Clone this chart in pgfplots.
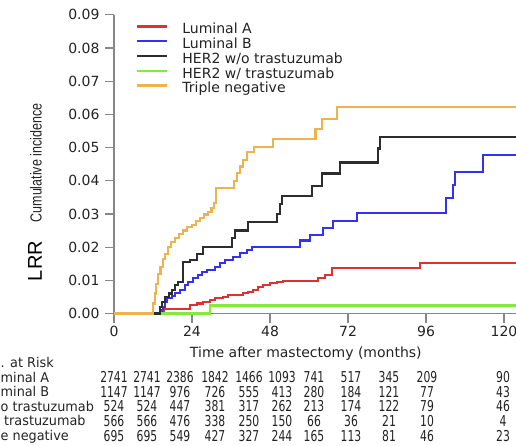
\documentclass[border=0pt]{standalone}
\usepackage{fontspec}
\setmainfont{DejaVu Sans}
\newfontfamily\numfont[FakeStretch=0.72]{DejaVu Sans}
\newfontfamily\labfont[FakeStretch=0.95]{DejaVu Sans}
\newfontfamily\narrowfont[FakeStretch=0.78]{Liberation Sans}
\newfontfamily\lrrfont{Liberation Sans}
\usepackage{pgfplots}
\pgfplotsset{compat=1.18}
\definecolor{cLA}{RGB}{220,50,50}
\definecolor{cLB}{RGB}{50,50,240}
\definecolor{cH}{RGB}{45,45,45}
\definecolor{cHT}{RGB}{130,235,60}
\definecolor{cTN}{RGB}{238,178,78}
\definecolor{axgray}{RGB}{135,135,135}
\definecolor{txt}{RGB}{35,35,35}
\begin{document}
\begin{tikzpicture}
\useasboundingbox (0,0) rectangle (516pt,-445pt);
\clip (0,0) rectangle (516pt,-445pt);
\begin{axis}[
  at={(114pt,-313.5pt)}, anchor=south west,
  scale only axis, width=403pt, height=298.8pt,
  xmin=0, xmax=124, ymin=0, ymax=0.09,
  axis lines*=left,
  axis line style={axgray, line width=1.2pt},
  tick style={axgray, line width=1.2pt},
  major tick length=9pt, tick align=outside,
  xtick={0,24,48,72,96,120},
  ytick={0,0.01,0.02,0.03,0.04,0.05,0.06,0.07,0.08,0.09},
  scaled y ticks=false,
  ticklabel style={font=\fontsize{14}{16}\selectfont, text=txt},
  yticklabel style={xshift=-2pt, /pgf/number format/.cd, fixed, fixed zerofill, precision=2},
  /pgf/number format/assume math mode=true,
  xlabel={Time after mastectomy (months)},
  xlabel style={at={(axis description cs:0.476,-0.1456)}, anchor=base, font=\fontsize{14}{16}\selectfont, text=txt},
  clip=false,
  legend style={at={(axis description cs:0.0546,0.972)}, anchor=north west, draw=none, fill=none, inner sep=0pt,
    font=\fontsize{14}{16}\selectfont, text=txt,
    nodes={inner sep=0pt, text height=10.5pt, text depth=3.5pt},
    row sep=0.75pt, /tikz/every odd column/.append style={column sep=14pt}},
  legend cell align=left,
  legend image code/.code={\draw[#1, line width=2.2pt] (0pt,3.8pt) -- (30pt,3.8pt);},
]
\addlegendimage{cLA}
\addlegendimage{cLB}
\addlegendimage{cH}
\addlegendimage{cHT}
\addlegendimage{cTN}
\addplot[cLA, const plot, line width=2.2pt, forget plot] coordinates {(0,0) (14.8,0.0008) (15.5,0.0014) (23.4,0.0026) (25.5,0.003) (27.4,0.0035) (29.5,0.004) (31.1,0.0047) (33.5,0.005) (35.1,0.0056) (39.7,0.0062) (41.2,0.0065) (42.8,0.0071) (44.3,0.008) (45.8,0.0086) (48,0.0092) (50.2,0.0095) (52,0.0098) (62.8,0.0107) (64.9,0.0116) (67,0.0137) (94.2,0.0152) (124,0.0152)};
\addplot[cLB, const plot, line width=2.2pt, forget plot] coordinates {(0,0) (14.8,0.001) (15.1,0.002) (15.7,0.0035) (16.3,0.0047) (17.8,0.0052) (18.8,0.0062) (20.3,0.0071) (21.8,0.0086) (22.8,0.0095) (24.3,0.0107) (25.8,0.0116) (27.1,0.0125) (28.6,0.0131) (31.1,0.014) (32.6,0.0152) (34.2,0.0161) (36.6,0.017) (38.8,0.0182) (40.9,0.0191) (42.5,0.0200) (57.2,0.0220) (60.3,0.0236) (64.3,0.0257) (67.4,0.0279) (74.8,0.0303) (102.2,0.0348) (104.3,0.0387) (104.9,0.0426) (113.5,0.0477) (124,0.0477)};
\addplot[cHT, const plot, line width=2.2pt, forget plot] coordinates {(0,0) (29.5,0.0024) (124,0.0024)};
\addplot[cH, const plot, line width=2.2pt, forget plot] coordinates {(0,0) (14.2,0.002) (14.8,0.0035) (15.7,0.005) (16.8,0.006) (17.8,0.0071) (18.8,0.0085) (19.7,0.0095) (21.2,0.0155) (23.4,0.0162) (25.5,0.018) (27.4,0.0201) (36.3,0.0228) (37.2,0.025) (41.2,0.0275) (50.2,0.030) (51.1,0.033) (51.7,0.0355) (60.9,0.0385) (64,0.0422) (69.5,0.0455) (81.2,0.0497) (81.8,0.0531) (124,0.0531)};
\addplot[cTN, const plot, line width=2.2pt, forget plot] coordinates {(0,0) (12,0.003) (12.5,0.006) (13,0.009) (13.6,0.012) (14.3,0.014) (15,0.0165) (15.8,0.018) (16.6,0.020) (17.6,0.0215) (18.8,0.0227) (20,0.024) (21.2,0.025) (22.5,0.026) (24,0.0267) (25.3,0.0278) (26.5,0.0288) (27.8,0.0298) (28.9,0.0306) (30,0.0318) (30.8,0.0333) (31.4,0.0378) (37,0.040) (37.8,0.0423) (38.8,0.0443) (39.6,0.0462) (41,0.0486) (43,0.0501) (49,0.0526) (62,0.0556) (64,0.0586) (68.6,0.0622) (124,0.0622)};
\legend{Luminal A, Luminal B, HER2 w/o trastuzumab, HER2 w/ trastuzumab, Triple negative}
\end{axis}
% axis titles
\node[rotate=90, font=\narrowfont\fontsize{16}{18}\selectfont, text=txt] at (36pt,-163pt) {Cumulative incidence};
\node[rotate=90, font=\lrrfont\fontsize{20}{22}\selectfont, text=black] at (35pt,-261pt) {LRR};
% risk table (row names cropped at the left edge, as in the reference)
\begin{scope}[every node/.style={font=\labfont\fontsize{13.5}{16}\selectfont, text=txt, inner sep=0pt}]
\node[anchor=base west] at (0.5pt,-367.5pt) {. at Risk};
\node[anchor=base west] at (0.5pt,-382pt) {minal A};
\node[anchor=base west] at (0.5pt,-396.5pt) {minal B};
\node[anchor=base west] at (0.5pt,-411pt) {o trastuzumab};
\node[anchor=base west] at (4pt,-425.5pt) {trastuzumab};
\node[anchor=base west] at (0.5pt,-440.5pt) {e negative};
\end{scope}
\begin{scope}[every node/.style={font=\numfont\fontsize{15}{17}\selectfont, text=txt, inner sep=0pt}]
\foreach \y/\a/\b/\c/\d/\e/\f/\g/\h/\i/\j/\k in {
  382.5/2741/2741/2386/1842/1466/1093/741/517/345/209/90,
  397/1147/1147/976/726/555/413/280/184/121/77/43,
  411.5/524/524/447/381/317/262/213/174/122/79/46,
  426/566/566/476/338/250/150/66/36/21/10/4,
  441/695/695/549/427/327/244/165/113/81/46/23}{
  \node[anchor=base] at (114pt,-\y pt) {\a};
  \node[anchor=base] at (147pt,-\y pt) {\b};
  \node[anchor=base] at (180pt,-\y pt) {\c};
  \node[anchor=base] at (215pt,-\y pt) {\d};
  \node[anchor=base] at (249pt,-\y pt) {\e};
  \node[anchor=base] at (282pt,-\y pt) {\f};
  \node[anchor=base] at (314pt,-\y pt) {\g};
  \node[anchor=base] at (351pt,-\y pt) {\h};
  \node[anchor=base] at (389pt,-\y pt) {\i};
  \node[anchor=base] at (427pt,-\y pt) {\j};
  \node[anchor=base] at (503pt,-\y pt) {\k};
}
\end{scope}
\end{tikzpicture}
\end{document}
